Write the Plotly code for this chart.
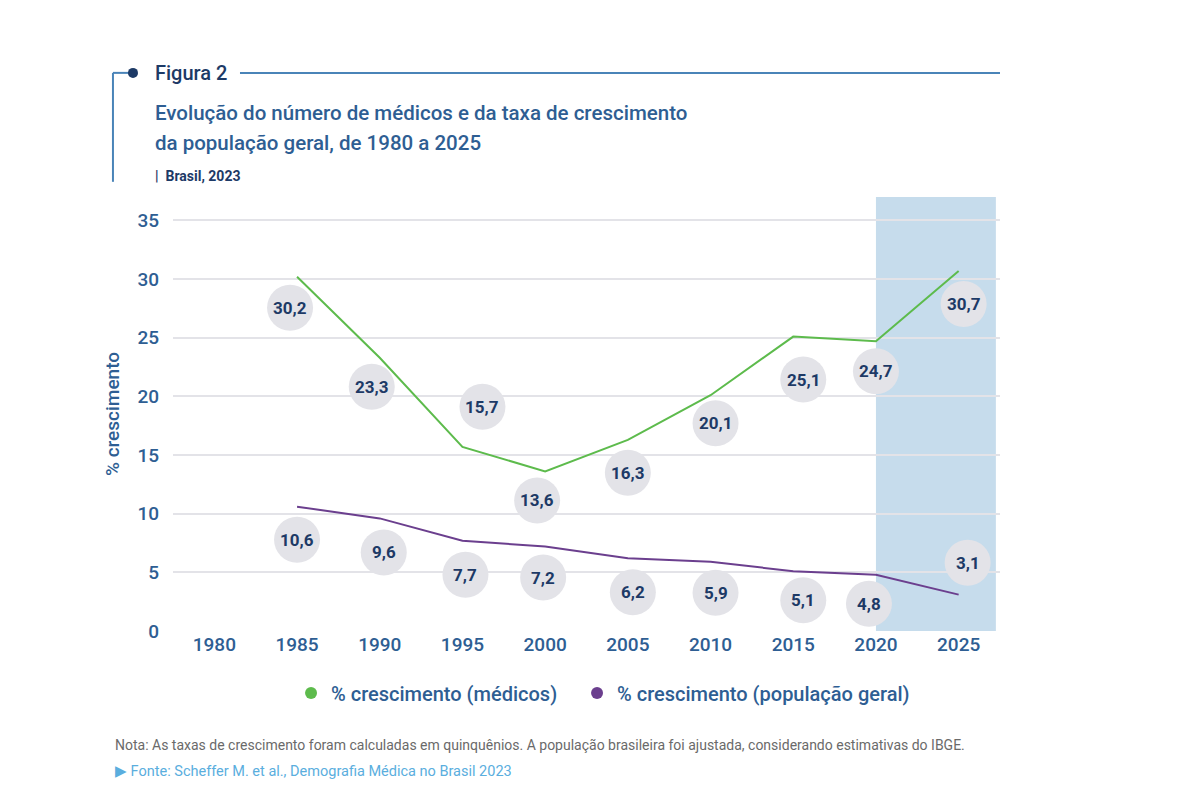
import plotly.graph_objects as go

years = ["1980", "1985", "1990", "1995", "2000", "2005", "2010", "2015", "2020", "2025"]
medicos_years = ["1985", "1990", "1995", "2000", "2005", "2010", "2015", "2020", "2025"]
medicos = [30.2, 23.3, 15.7, 13.6, 16.3, 20.1, 25.1, 24.7, 30.7]
populacao = [10.6, 9.6, 7.7, 7.2, 6.2, 5.9, 5.1, 4.8, 3.1]
y_ticks = [0, 5, 10, 15, 20, 25, 30, 35]

# label bubble pixel offsets (dx right, dy down) relative to each point
med_off = [(-7, 31), (-8, 29), (20, -40), (-8, 29), (0, 33), (5, 28), (10, 43), (0, 30), (5, 33)]
pop_off = [(0, 33), (4, 34), (3, 34), (-2, 31), (5, 34), (5, 31), (10, 29), (-7, 29), (9, -32)]

GREEN = "#5dbb4c"
PURPLE = "#6b3f8e"
BLUE = "#2e5e93"
NAVY = "#1d3a66"
FONT = "Roboto"

fig = go.Figure()
fig.add_trace(go.Scatter(x=medicos_years, y=medicos, mode="lines",
                         line=dict(color=GREEN, width=2), showlegend=False, hoverinfo="skip"))
fig.add_trace(go.Scatter(x=medicos_years, y=populacao, mode="lines",
                         line=dict(color=PURPLE, width=2), showlegend=False, hoverinfo="skip"))
# legend entries
fig.add_trace(go.Scatter(x=[None], y=[None], mode="markers",
                         name="% crescimento (médicos)\u00a0\u00a0\u00a0",
                         marker=dict(color=GREEN, size=14)))
fig.add_trace(go.Scatter(x=[None], y=[None], mode="markers", name="% crescimento (população geral)",
                         marker=dict(color=PURPLE, size=14)))

shapes = []
annotations = []
# shaded projection region
shapes.append(dict(type="rect", xref="x", yref="paper", x0=years.index("2020"), x1=9.45,
                   y0=0, y1=1, fillcolor="#c6dcec", line=dict(width=0), layer="below"))

R = 23
for series, offs in ((medicos, med_off), (populacao, pop_off)):
    for yr, v, (dx, dy) in zip(medicos_years, series, offs):
        xi = years.index(yr)
        shapes.append(dict(type="circle", xref="x", yref="y", xsizemode="pixel", ysizemode="pixel",
                           xanchor=xi, yanchor=v, x0=dx - R, x1=dx + R, y0=-dy - R, y1=-dy + R,
                           fillcolor="#e3e3e8", line=dict(width=0), layer="above"))
        annotations.append(dict(x=xi, y=v, xref="x", yref="y", xshift=dx, yshift=-dy,
                                text="<b>" + f"{v:.1f}".replace(".", ",") + "</b>",
                                showarrow=False, font=dict(family=FONT, size=17, color=NAVY)))

# header decoration
shapes += [
    dict(type="line", xref="paper", yref="paper", x0=-0.0726, x1=-0.05, y0=1.286, y1=1.286,
         line=dict(color="#4a84b8", width=2)),
    dict(type="line", xref="paper", yref="paper", x0=-0.0726, x1=-0.0726, y0=1.286, y1=1.035,
         line=dict(color="#4a84b8", width=2)),
    dict(type="line", xref="paper", yref="paper", x0=0.081, x1=1.0, y0=1.286, y1=1.286,
         line=dict(color="#4a84b8", width=2)),
    dict(type="circle", xref="paper", yref="paper", xsizemode="pixel", ysizemode="pixel",
         xanchor=-0.0484, yanchor=1.286, x0=-5, x1=5, y0=-5, y1=5,
         fillcolor=NAVY, line=dict(width=0)),
]

annotations += [
    dict(xref="paper", yref="paper", x=-0.0242, y=1.286, xanchor="left", yanchor="middle",
         text="Figura 2", showarrow=False, font=dict(family=FONT, size=20, color=NAVY, weight=500)),
    dict(xref="paper", yref="paper", x=-0.0242, y=1.1935, xanchor="left", yanchor="middle",
         text="Evolução do número de médicos e da taxa de crescimento", showarrow=False,
         font=dict(family=FONT, size=20.5, color=BLUE, weight=500)),
    dict(xref="paper", yref="paper", x=-0.0242, y=1.124, xanchor="left", yanchor="middle",
         text="da população geral, de 1980 a 2025", showarrow=False,
         font=dict(family=FONT, size=20.5, color=BLUE, weight=500)),
    dict(xref="paper", yref="paper", x=-0.0242, y=1.048, xanchor="left", yanchor="middle",
         text="<b>|  Brasil, 2023</b>", showarrow=False,
         font=dict(family=FONT, size=14, color=NAVY)),
    dict(xref="paper", yref="paper", x=-0.0726, y=-0.262, xanchor="left", yanchor="middle",
         text="Nota: As taxas de crescimento foram calculadas em quinquênios. A população brasileira foi ajustada, considerando estimativas do IBGE.",
         showarrow=False, font=dict(family=FONT, size=14, color="#6a6a6a")),
    dict(xref="paper", yref="paper", x=-0.0726, y=-0.324, xanchor="left", yanchor="middle",
         text="▶ Fonte: Scheffer M. et al., Demografia Médica no Brasil 2023",
         showarrow=False, font=dict(family=FONT, size=14.5, color="#5aaede")),
]

fig.update_layout(
    width=1200, height=800,
    margin=dict(l=165, r=208, t=189, b=177),
    paper_bgcolor="white", plot_bgcolor="white",
    font=dict(family=FONT, color=BLUE),
    shapes=shapes, annotations=annotations,
    legend=dict(orientation="h", x=0.52, xanchor="center", y=-0.143, yanchor="middle",
                font=dict(family=FONT, size=20, color=BLUE, weight=500), itemsizing="constant",
                itemwidth=30),
    xaxis=dict(type="category", categoryorder="array", categoryarray=years,
               range=[-0.5, 9.5], showgrid=False, zeroline=False, showline=False,
               tickfont=dict(family=FONT, size=19, color=BLUE, weight=500), ticks=""),
    yaxis=dict(range=[0, 37], tickvals=y_ticks, showgrid=True, gridcolor="#e3e3e8", gridwidth=1.5,
               zeroline=False, showline=False, ticks="", ticklabelstandoff=13,
               tickfont=dict(family=FONT, size=19, color=BLUE, weight=500),
               title=dict(text="% crescimento", font=dict(family=FONT, size=19, color=BLUE, weight=500),
                          standoff=12)),
)

fig.write_html("out.html")
